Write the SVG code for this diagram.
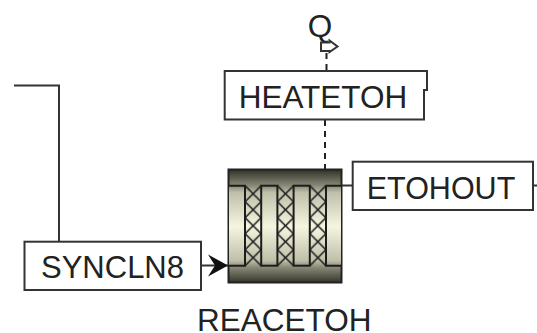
<svg xmlns="http://www.w3.org/2000/svg" width="537" height="333" viewBox="0 0 537 333">
<style>
.ln{fill:none;stroke:#333;stroke-width:2}
.bx{fill:#fff;stroke:#333;stroke-width:2}
.dash{fill:none;stroke:#222;stroke-width:2;stroke-dasharray:6 5}
.t{font-family:"Liberation Sans",Arial,sans-serif;font-size:31.5px;fill:#222;text-anchor:middle}
.bar{fill:url(#b);stroke:#1c1c1c;stroke-width:2}
.x{fill:none;stroke:#1c1c1c;stroke-width:1.6}
</style>
<defs>
<linearGradient id="b" gradientUnits="userSpaceOnUse" x1="0" y1="170" x2="0" y2="283">
<stop offset="0" stop-color="#333328"/>
<stop offset="0.14" stop-color="#8a8a78"/>
<stop offset="0.2" stop-color="#bfbfaa"/>
<stop offset="0.5" stop-color="#f5f5e0"/>
<stop offset="0.8" stop-color="#bfbfaa"/>
<stop offset="0.86" stop-color="#8a8a78"/>
<stop offset="1" stop-color="#333328"/>
</linearGradient>
<pattern id="lat" patternUnits="userSpaceOnUse" x="245" y="185.7" width="16.2" height="16">
<path class="x" d="M0 0L16.2 16M16.2 0L0 16"/>
</pattern>
<marker id="ah" markerUnits="userSpaceOnUse" markerWidth="22" markerHeight="24" refX="21" refY="12" orient="auto">
<path d="M1 1L21 12L1 23L8 12Z" fill="#111"/>
</marker>
</defs>
<g id="connectors">
<path class="ln" d="M14 85.500H59V242"/>
<path class="dash" d="M326.500 53V71"/>
<path class="dash" d="M325 120V169"/>
<path class="ln" d="M201 265.500H228" marker-end="url(#ah)"/>
<path class="ln" d="M341 185.500H353"/>
<path class="ln" d="M533 185.500H537"/>
</g>
<g id="HEATETOH">
<path class="bx" d="M224.700 71H427V90H424V119.500H224.700Z"/>
<text class="t" x="323" y="108">HEATETOH</text>
</g>
<g id="Q">
<text class="t" x="320" y="36.500">Q</text>
<path d="M321 42.500H329.500V40.500L337.500 46.500L329.500 52V51H321Z" fill="#fff" stroke="#333" stroke-width="2"/>
</g>
<g id="SYNCLN8">
<rect class="bx" x="24.500" y="241.700" width="176.500" height="48.300"/>
<text class="t" style="font-size:31px" x="112.500" y="278">SYNCLN8</text>
</g>
<g id="ETOHOUT">
<rect class="bx" x="352.700" y="161.700" width="180.300" height="48.300"/>
<text class="t" style="font-size:30.500px" x="441" y="199">ETOHOUT</text>
</g>
<g id="REACETOH">
<rect x="228.500" y="169.500" width="113" height="113" fill="url(#b)" stroke="#222" stroke-width="2"/>
<rect x="245" y="185.700" width="16.200" height="80" fill="url(#lat)"/>
<rect x="277.400" y="185.700" width="16.200" height="80" fill="url(#lat)"/>
<rect x="309.800" y="185.700" width="16.200" height="80" fill="url(#lat)"/>
<path class="bar" d="M229 185.700H245V265.700H229"/>
<rect class="bar" x="261.200" y="185.700" width="16.200" height="80"/>
<rect class="bar" x="293.600" y="185.700" width="16.200" height="80"/>
<path class="bar" d="M341 185.700H326V265.700H341"/>
<text class="t" x="284.300" y="331">REACETOH</text>
</g>
</svg>
